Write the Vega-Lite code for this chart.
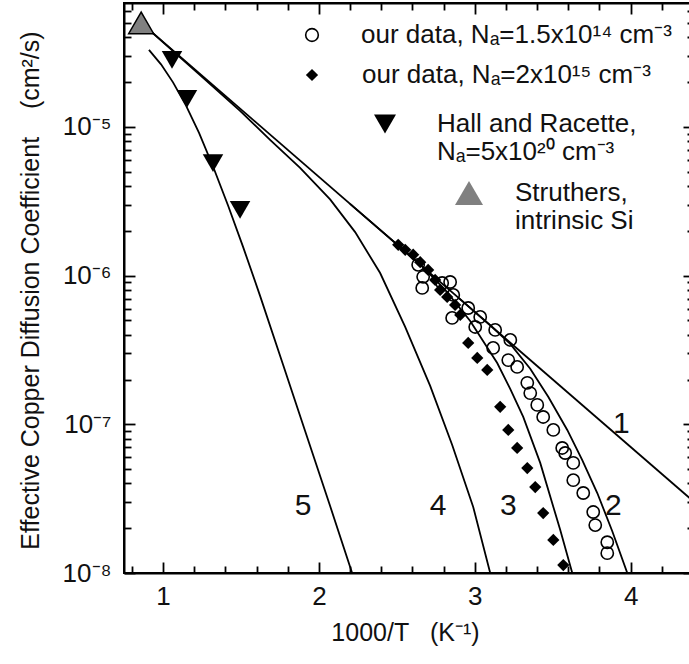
{
  "$schema": "https://vega.github.io/schema/vega-lite/v6.json",
  "width": 569,
  "height": 570,
  "autosize": {"type": "none"},
  "padding": {"left": 124, "top": 3, "right": 0, "bottom": 91},
  "config": {
    "font": "Liberation Sans",
    "view": {"stroke": "#000", "strokeWidth": 2},
    "axis": {
      "domainColor": "#000", "domainWidth": 2,
      "tickColor": "#000", "tickWidth": 1.8,
      "labelColor": "#111", "titleColor": "#111",
      "labelFont": "Liberation Sans", "titleFont": "Liberation Sans",
      "labelFontSize": 26, "titleFontSize": 26, "titleFontWeight": "normal",
      "grid": false
    },
    "legend": {
      "labelFont": "Liberation Sans", "labelFontSize": 26, "labelColor": "#111",
      "labelLimit": 600, "padding": 0, "titlePadding": 0
    }
  },
  "datasets": {
    "curves": [
      {"curve": "1", "x": 0.86, "D": 5.0e-5},
      {"curve": "1", "x": 4.4, "D": 3.05e-8},
      {"curve": "2", "x": 2.9, "D": 7.02e-7},
      {"curve": "2", "x": 3.099, "D": 4.63e-7},
      {"curve": "2", "x": 3.2275, "D": 3.47e-7},
      {"curve": "2", "x": 3.3559, "D": 2.36e-7},
      {"curve": "2", "x": 3.4714, "D": 1.53e-7},
      {"curve": "2", "x": 3.5934, "D": 9.16e-8},
      {"curve": "2", "x": 3.6896, "D": 5.75e-8},
      {"curve": "2", "x": 3.786, "D": 3.45e-8},
      {"curve": "2", "x": 3.8822, "D": 1.91e-8},
      {"curve": "2", "x": 3.9785, "D": 1.0e-8},
      {"curve": "3", "x": 2.2, "D": 3.03e-6},
      {"curve": "3", "x": 2.6499, "D": 1.19e-6},
      {"curve": "3", "x": 2.8103, "D": 8.0e-7},
      {"curve": "3", "x": 2.9708, "D": 4.95e-7},
      {"curve": "3", "x": 3.1441, "D": 2.58e-7},
      {"curve": "3", "x": 3.2275, "D": 1.73e-7},
      {"curve": "3", "x": 3.311, "D": 1.12e-7},
      {"curve": "3", "x": 3.420, "D": 5.5e-8},
      {"curve": "3", "x": 3.548, "D": 1.95e-8},
      {"curve": "3", "x": 3.6255, "D": 1.0e-8},
      {"curve": "4", "x": 0.86, "D": 5.0e-5},
      {"curve": "4", "x": 1.2378, "D": 2.23e-5},
      {"curve": "4", "x": 1.4946, "D": 1.28e-5},
      {"curve": "4", "x": 1.6871, "D": 8.17e-6},
      {"curve": "4", "x": 1.8797, "D": 5.30e-6},
      {"curve": "4", "x": 2.0722, "D": 3.25e-6},
      {"curve": "4", "x": 2.2327, "D": 1.96e-6},
      {"curve": "4", "x": 2.3931, "D": 1.04e-6},
      {"curve": "4", "x": 2.5536, "D": 4.51e-7},
      {"curve": "4", "x": 2.7140, "D": 1.81e-7},
      {"curve": "4", "x": 2.8553, "D": 7.26e-8},
      {"curve": "4", "x": 2.9901, "D": 2.78e-8},
      {"curve": "4", "x": 3.0991, "D": 1.0e-8},
      {"curve": "5", "x": 0.910, "D": 3.29e-5},
      {"curve": "5", "x": 0.9875, "D": 2.63e-5},
      {"curve": "5", "x": 1.0645, "D": 1.99e-5},
      {"curve": "5", "x": 1.148, "D": 1.39e-5},
      {"curve": "5", "x": 1.2314, "D": 9.10e-6},
      {"curve": "5", "x": 1.3212, "D": 5.41e-6},
      {"curve": "5", "x": 1.4175, "D": 2.96e-6},
      {"curve": "5", "x": 1.5138, "D": 1.56e-6},
      {"curve": "5", "x": 1.6229, "D": 7.30e-7},
      {"curve": "5", "x": 1.7705, "D": 2.51e-7},
      {"curve": "5", "x": 1.9118, "D": 9.02e-8},
      {"curve": "5", "x": 2.0722, "D": 2.82e-8},
      {"curve": "5", "x": 2.2134, "D": 1.0e-8}
    ],
    "curveLabels": [
      {"num": "1", "x": 3.94, "D": 1.0e-7},
      {"num": "2", "x": 3.889, "D": 2.82e-8},
      {"num": "3", "x": 3.215, "D": 2.82e-8},
      {"num": "4", "x": 2.765, "D": 2.82e-8},
      {"num": "5", "x": 1.899, "D": 2.82e-8}
    ],
    "lowDoped": [
      {"set": "our data, Nₐ=1.5x10¹⁴ cm⁻³", "x": 2.637, "D": 1.18e-6},
      {"set": "our data, Nₐ=1.5x10¹⁴ cm⁻³", "x": 2.669, "D": 9.80e-7},
      {"set": "our data, Nₐ=1.5x10¹⁴ cm⁻³", "x": 2.663, "D": 8.26e-7},
      {"set": "our data, Nₐ=1.5x10¹⁴ cm⁻³", "x": 2.791, "D": 8.91e-7},
      {"set": "our data, Nₐ=1.5x10¹⁴ cm⁻³", "x": 2.842, "D": 9.05e-7},
      {"set": "our data, Nₐ=1.5x10¹⁴ cm⁻³", "x": 2.862, "D": 7.41e-7},
      {"set": "our data, Nₐ=1.5x10¹⁴ cm⁻³", "x": 2.855, "D": 5.19e-7},
      {"set": "our data, Nₐ=1.5x10¹⁴ cm⁻³", "x": 2.958, "D": 6.05e-7},
      {"set": "our data, Nₐ=1.5x10¹⁴ cm⁻³", "x": 3.035, "D": 5.27e-7},
      {"set": "our data, Nₐ=1.5x10¹⁴ cm⁻³", "x": 3.003, "D": 4.51e-7},
      {"set": "our data, Nₐ=1.5x10¹⁴ cm⁻³", "x": 3.131, "D": 4.31e-7},
      {"set": "our data, Nₐ=1.5x10¹⁴ cm⁻³", "x": 3.118, "D": 3.26e-7},
      {"set": "our data, Nₐ=1.5x10¹⁴ cm⁻³", "x": 3.228, "D": 3.69e-7},
      {"set": "our data, Nₐ=1.5x10¹⁴ cm⁻³", "x": 3.215, "D": 2.70e-7},
      {"set": "our data, Nₐ=1.5x10¹⁴ cm⁻³", "x": 3.272, "D": 2.43e-7},
      {"set": "our data, Nₐ=1.5x10¹⁴ cm⁻³", "x": 3.337, "D": 1.90e-7},
      {"set": "our data, Nₐ=1.5x10¹⁴ cm⁻³", "x": 3.356, "D": 1.62e-7},
      {"set": "our data, Nₐ=1.5x10¹⁴ cm⁻³", "x": 3.401, "D": 1.35e-7},
      {"set": "our data, Nₐ=1.5x10¹⁴ cm⁻³", "x": 3.439, "D": 1.12e-7},
      {"set": "our data, Nₐ=1.5x10¹⁴ cm⁻³", "x": 3.504, "D": 9.16e-8},
      {"set": "our data, Nₐ=1.5x10¹⁴ cm⁻³", "x": 3.561, "D": 6.93e-8},
      {"set": "our data, Nₐ=1.5x10¹⁴ cm⁻³", "x": 3.580, "D": 6.41e-8},
      {"set": "our data, Nₐ=1.5x10¹⁴ cm⁻³", "x": 3.632, "D": 5.50e-8},
      {"set": "our data, Nₐ=1.5x10¹⁴ cm⁻³", "x": 3.632, "D": 4.21e-8},
      {"set": "our data, Nₐ=1.5x10¹⁴ cm⁻³", "x": 3.696, "D": 3.45e-8},
      {"set": "our data, Nₐ=1.5x10¹⁴ cm⁻³", "x": 3.760, "D": 2.57e-8},
      {"set": "our data, Nₐ=1.5x10¹⁴ cm⁻³", "x": 3.773, "D": 2.10e-8},
      {"set": "our data, Nₐ=1.5x10¹⁴ cm⁻³", "x": 3.850, "D": 1.61e-8},
      {"set": "our data, Nₐ=1.5x10¹⁴ cm⁻³", "x": 3.850, "D": 1.36e-8}
    ],
    "highDoped": [
      {"set": "our data, Nₐ=2x10¹⁵ cm⁻³", "x": 2.509, "D": 1.61e-6},
      {"set": "our data, Nₐ=2x10¹⁵ cm⁻³", "x": 2.554, "D": 1.49e-6},
      {"set": "our data, Nₐ=2x10¹⁵ cm⁻³", "x": 2.605, "D": 1.38e-6},
      {"set": "our data, Nₐ=2x10¹⁵ cm⁻³", "x": 2.650, "D": 1.23e-6},
      {"set": "our data, Nₐ=2x10¹⁵ cm⁻³", "x": 2.701, "D": 1.09e-6},
      {"set": "our data, Nₐ=2x10¹⁵ cm⁻³", "x": 2.746, "D": 9.34e-7},
      {"set": "our data, Nₐ=2x10¹⁵ cm⁻³", "x": 2.778, "D": 8.00e-7},
      {"set": "our data, Nₐ=2x10¹⁵ cm⁻³", "x": 2.823, "D": 7.18e-7},
      {"set": "our data, Nₐ=2x10¹⁵ cm⁻³", "x": 2.874, "D": 6.34e-7},
      {"set": "our data, Nₐ=2x10¹⁵ cm⁻³", "x": 2.907, "D": 5.43e-7},
      {"set": "our data, Nₐ=2x10¹⁵ cm⁻³", "x": 2.958, "D": 3.52e-7},
      {"set": "our data, Nₐ=2x10¹⁵ cm⁻³", "x": 3.016, "D": 2.79e-7},
      {"set": "our data, Nₐ=2x10¹⁵ cm⁻³", "x": 3.080, "D": 2.32e-7},
      {"set": "our data, Nₐ=2x10¹⁵ cm⁻³", "x": 3.163, "D": 1.31e-7},
      {"set": "our data, Nₐ=2x10¹⁵ cm⁻³", "x": 3.215, "D": 9.16e-8},
      {"set": "our data, Nₐ=2x10¹⁵ cm⁻³", "x": 3.272, "D": 6.93e-8},
      {"set": "our data, Nₐ=2x10¹⁵ cm⁻³", "x": 3.337, "D": 5.08e-8},
      {"set": "our data, Nₐ=2x10¹⁵ cm⁻³", "x": 3.388, "D": 3.78e-8},
      {"set": "our data, Nₐ=2x10¹⁵ cm⁻³", "x": 3.439, "D": 2.53e-8},
      {"set": "our data, Nₐ=2x10¹⁵ cm⁻³", "x": 3.504, "D": 1.67e-8},
      {"set": "our data, Nₐ=2x10¹⁵ cm⁻³", "x": 3.568, "D": 1.13e-8}
    ],
    "hall": [
      {"set": "Hall and Racette,|Nₐ=5x10²⁰ cm⁻³", "x": 1.058, "D": 2.82e-5},
      {"set": "Hall and Racette,|Nₐ=5x10²⁰ cm⁻³", "x": 1.154, "D": 1.54e-5},
      {"set": "Hall and Racette,|Nₐ=5x10²⁰ cm⁻³", "x": 1.321, "D": 5.71e-6},
      {"set": "Hall and Racette,|Nₐ=5x10²⁰ cm⁻³", "x": 1.4945, "D": 2.76e-6}
    ],
    "struthers": [
      {"set": "Struthers,|intrinsic Si", "x": 0.86, "D": 5.0e-5}
    ]
  },
  "resolve": {
    "axis": {"x": "independent", "y": "independent"},
    "scale": {"shape": "independent"}
  },
  "layer": [
    {
      "data": {"name": "curves"},
      "mark": {"type": "line", "color": "#000", "strokeWidth": 1.8, "clip": true},
      "encoding": {
        "x": {
          "field": "x", "type": "quantitative",
          "scale": {"domain": [0.75, 4.4], "nice": false, "zero": false},
          "axis": {
            "orient": "bottom",
            "values": [0.8, 1, 1.2, 1.4, 1.6, 1.8, 2, 2.2, 2.4, 2.6, 2.8, 3, 3.2, 3.4, 3.6, 3.8, 4, 4.2, 4.4],
            "tickSize": {"condition": {"test": "datum.value % 1 == 0", "value": -11}, "value": -7},
            "labelExpr": "datum.value % 1 == 0 ? format(datum.value, 'd') : ''",
            "labelPadding": 21,
            "labelFlush": false,
            "title": "1000/T\u00a0\u00a0\u00a0(K⁻¹)",
            "titleFontSize": 25,
            "titleX": 281, "titleY": 59, "titleBaseline": "middle", "titleAnchor": null
          }
        },
        "y": {
          "field": "D", "type": "quantitative",
          "scale": {"type": "log", "domain": [1e-8, 6.8e-5], "nice": false},
          "axis": {
            "orient": "left",
            "values": [1e-8, 2e-8, 3e-8, 4e-8, 5e-8, 6e-8, 7e-8, 8e-8, 9e-8, 1e-7, 2e-7, 3e-7, 4e-7, 5e-7, 6e-7, 7e-7, 8e-7, 9e-7, 1e-6, 2e-6, 3e-6, 4e-6, 5e-6, 6e-6, 7e-6, 8e-6, 9e-6, 1e-5, 2e-5, 3e-5, 4e-5, 5e-5, 6e-5],
            "tickSize": {"condition": {"test": "datum.value == 1e-8 || datum.value == 1e-7 || datum.value == 1e-6 || datum.value == 1e-5", "value": -11}, "value": -7},
            "labelExpr": "datum.value == 1e-5 ? '10⁻⁵' : datum.value == 1e-6 ? '10⁻⁶' : datum.value == 1e-7 ? '10⁻⁷' : datum.value == 1e-8 ? '10⁻⁸' : ''",
            "labelPadding": 24,
            "labelBaseline": "middle",
            "labelFlush": false,
            "labelOverlap": false,
            "title": "Effective Copper Diffusion Coefficient\u00a0\u00a0\u00a0\u00a0(cm²/s)",
            "titleFontSize": 25,
            "titleX": -94, "titleY": 287, "titleBaseline": "middle", "titleAnchor": null
          }
        },
        "detail": {"field": "curve", "type": "nominal"}
      }
    },
    {
      "data": {"name": "curveLabels"},
      "mark": {"type": "text", "font": "Liberation Sans", "fontSize": 30, "color": "#111", "align": "center", "baseline": "middle"},
      "encoding": {
        "x": {
          "field": "x", "type": "quantitative",
          "axis": {
            "orient": "top",
            "values": [0.8, 1, 1.2, 1.4, 1.6, 1.8, 2, 2.2, 2.4, 2.6, 2.8, 3, 3.2, 3.4, 3.6, 3.8, 4, 4.2, 4.4],
            "tickSize": {"condition": {"test": "datum.value % 1 == 0", "value": -11}, "value": -7},
            "labels": false, "title": null
          }
        },
        "y": {
          "field": "D", "type": "quantitative",
          "axis": {
            "orient": "right",
            "values": [1e-8, 2e-8, 3e-8, 4e-8, 5e-8, 6e-8, 7e-8, 8e-8, 9e-8, 1e-7, 2e-7, 3e-7, 4e-7, 5e-7, 6e-7, 7e-7, 8e-7, 9e-7, 1e-6, 2e-6, 3e-6, 4e-6, 5e-6, 6e-6, 7e-6, 8e-6, 9e-6, 1e-5, 2e-5, 3e-5, 4e-5, 5e-5, 6e-5],
            "tickSize": {"condition": {"test": "datum.value == 1e-8 || datum.value == 1e-7 || datum.value == 1e-6 || datum.value == 1e-5", "value": -10}, "value": -6},
            "labels": false, "title": null
          }
        },
        "text": {"field": "num"}
      }
    },
    {
      "data": {"name": "lowDoped"},
      "mark": {"type": "point", "filled": false, "stroke": "#000", "strokeWidth": 1.6, "size": 150, "opacity": 1},
      "encoding": {
        "x": {"field": "x", "type": "quantitative", "axis": null},
        "y": {"field": "D", "type": "quantitative", "axis": null},
        "shape": {
          "field": "set", "type": "nominal",
          "scale": {"range": ["circle"]},
          "legend": {
            "orient": "none", "legendX": 175, "legendY": 19, "title": null,
            "symbolSize": 160, "symbolStrokeWidth": 1.6, "symbolFillColor": "#fff", "symbolStrokeColor": "#000",
            "labelOffset": 36
          }
        }
      }
    },
    {
      "data": {"name": "highDoped"},
      "mark": {"type": "point", "filled": true, "fill": "#000", "size": 150, "opacity": 1},
      "encoding": {
        "x": {"field": "x", "type": "quantitative", "axis": null},
        "y": {"field": "D", "type": "quantitative", "axis": null},
        "shape": {
          "field": "set", "type": "nominal",
          "scale": {"range": ["diamond"]},
          "legend": {
            "orient": "none", "legendX": 175, "legendY": 59, "title": null,
            "symbolSize": 150, "symbolStrokeWidth": 0, "symbolFillColor": "#000", "symbolStrokeColor": "#000",
            "labelOffset": 37
          }
        }
      }
    },
    {
      "data": {"name": "hall"},
      "mark": {"type": "point", "filled": true, "fill": "#000", "size": 420, "opacity": 1},
      "encoding": {
        "x": {"field": "x", "type": "quantitative", "axis": null},
        "y": {"field": "D", "type": "quantitative", "axis": null},
        "shape": {
          "field": "set", "type": "nominal",
          "scale": {"range": ["triangle-down"]},
          "legend": {
            "orient": "none", "legendX": 248, "legendY": 108, "title": null,
            "symbolSize": 484, "symbolStrokeWidth": 0, "symbolFillColor": "#000", "symbolStrokeColor": "#000",
            "labelOffset": 39,
            "labelExpr": "split(datum.label, '|')"
          }
        }
      }
    },
    {
      "data": {"name": "struthers"},
      "mark": {"type": "point", "filled": true, "fill": "#808080", "stroke": "#000", "strokeWidth": 1.5, "size": 625, "opacity": 1},
      "encoding": {
        "x": {"field": "x", "type": "quantitative", "axis": null},
        "y": {"field": "D", "type": "quantitative", "axis": null},
        "shape": {
          "field": "set", "type": "nominal",
          "scale": {"range": ["triangle-up"]},
          "legend": {
            "orient": "none", "legendX": 330, "legendY": 175, "title": null,
            "symbolSize": 784, "symbolStrokeWidth": 1.5, "symbolFillColor": "#808080", "symbolStrokeColor": "#000",
            "labelOffset": 31,
            "labelExpr": "split(datum.label, '|')"
          }
        }
      }
    }
  ]
}
